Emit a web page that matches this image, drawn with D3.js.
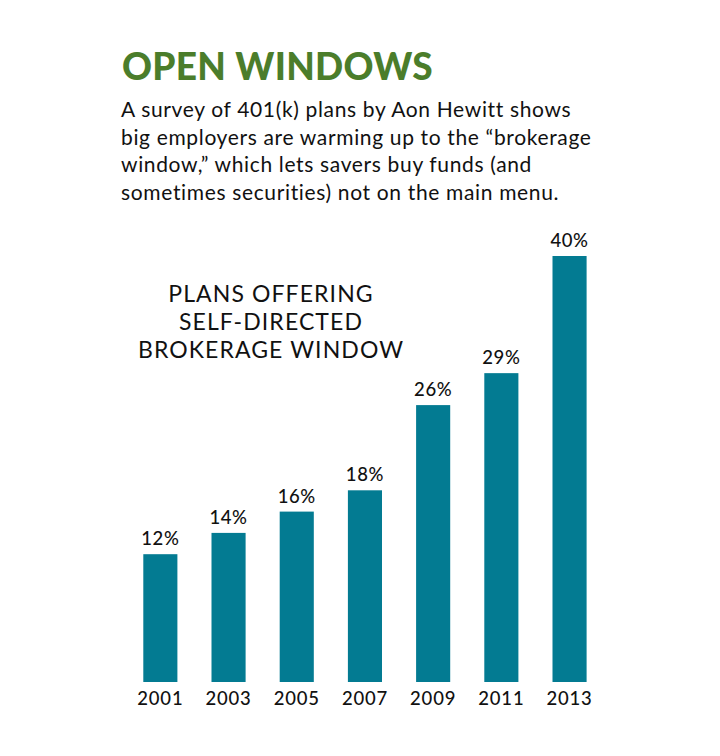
<!DOCTYPE html>
<html>
<head>
<meta charset="utf-8">
<script src="https://cdn.jsdelivr.net/npm/d3@7"></script>
<style>
  html, body { margin: 0; padding: 0; background: #fff; }
  svg { display: block; }
</style>
</head>
<body>
<svg id="chart" width="720" height="756"></svg>
<script>
const years = ["2001", "2003", "2005", "2007", "2009", "2011", "2013"];
const values = [12, 14, 16, 18, 26, 29, 40];
const valueLabels = ["12%", "14%", "16%", "18%", "26%", "29%", "40%"];
const titleText = "OPEN WINDOWS";
const subtitleLines = [
  "A survey of 401(k) plans by Aon Hewitt shows",
  "big employers are warming up to the \u201Cbrokerage",
  "window,\u201D which lets savers buy funds (and",
  "sometimes securities) not on the main menu."
];
const chartLabelLines = ["PLANS OFFERING", "SELF-DIRECTED", "BROKERAGE WINDOW"];

const svg = d3.select("#chart");
const font = "Lato, 'Open Sans', sans-serif";

// Title
svg.append("text")
  .attr("x", 122).attr("y", 79.5)
  .attr("font-family", font).attr("font-weight", 900)
  .attr("font-size", 37).attr("fill", "#4b7d2b")
  .attr("letter-spacing", 0.3)
  .text(titleText);

// Subtitle
svg.append("g").selectAll("text").data(subtitleLines).join("text")
  .attr("x", 121).attr("y", (d, i) => 117 + i * 27.5)
  .attr("font-family", font).attr("font-weight", 400)
  .attr("font-size", 21).attr("fill", "#111")
  .attr("letter-spacing", 0.65)
  .text(d => d);

// Scales
const x = d3.scaleBand().domain(years).range([126.25, 603.65])
  .paddingInner(0.5).paddingOuter(0.25);
const y = d3.scaleLinear().domain([0, 40]).range([682, 256]);

// Bars
svg.append("g").selectAll("rect").data(values).join("rect")
  .attr("x", (d, i) => x(years[i]))
  .attr("y", d => y(d))
  .attr("width", x.bandwidth())
  .attr("height", d => y(0) - y(d))
  .attr("fill", "#037b92");

// Value labels
svg.append("g").selectAll("text").data(values).join("text")
  .attr("x", (d, i) => x(years[i]) + x.bandwidth() / 2)
  .attr("y", d => y(d) - 9)
  .attr("text-anchor", "middle")
  .attr("font-family", font).attr("font-weight", 500)
  .attr("font-size", 18.5).attr("fill", "#111")
  .attr("letter-spacing", 0.6)
  .text((d, i) => valueLabels[i]);

// X axis labels
const xAxis = d3.axisBottom(x).tickSize(0).tickPadding(0);
const gx = svg.append("g").attr("transform", "translate(0,705)").call(xAxis);
gx.select(".domain").remove();
gx.selectAll("text")
  .attr("dy", 0).attr("y", 0)
  .attr("font-family", font).attr("font-weight", 500)
  .attr("font-size", 18.5).attr("fill", "#111")
  .attr("letter-spacing", 0.8);

// Chart label
svg.append("g").selectAll("text").data(chartLabelLines).join("text")
  .attr("x", 271).attr("y", (d, i) => 302 + i * 28)
  .attr("text-anchor", "middle")
  .attr("font-family", font).attr("font-weight", 400)
  .attr("font-size", 23).attr("fill", "#111")
  .attr("letter-spacing", 1.1)
  .text(d => d);
</script>
</body>
</html>
